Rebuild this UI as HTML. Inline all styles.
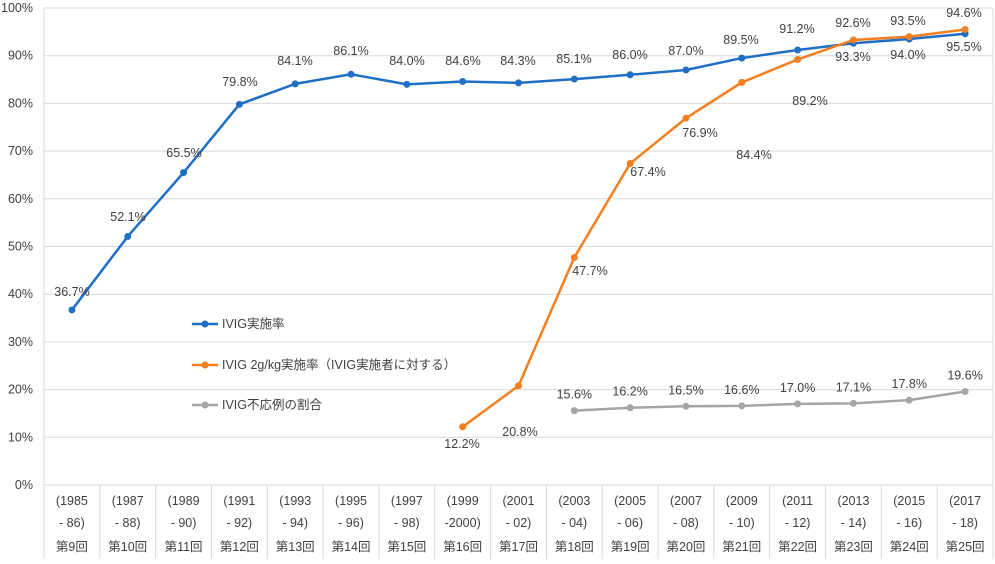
<!DOCTYPE html>
<html><head><meta charset="utf-8"><style>
body{margin:0;background:#fff}
text{font-family:"Liberation Sans","Noto Sans CJK JP",sans-serif;fill:#404040;font-size:12.5px}
</style></head><body>
<svg width="995" height="559" xmlns="http://www.w3.org/2000/svg">
</svg>
<script>
const s=document.querySelector('svg');const NS='http://www.w3.org/2000/svg';
function el(t,a,txt){const e=document.createElementNS(NS,t);for(const k in a)e.setAttribute(k,a[k]);if(txt!==undefined)e.textContent=txt;s.appendChild(e);return e;}
const L=44,R=993,B=485,T=8,cw=(R-L)/17;
const y=v=>B-v*(B-T)/100, x=i=>L+cw*(i+0.5);
for(let p=0;p<=100;p+=10){el('line',{x1:L,x2:R,y1:y(p),y2:y(p),stroke:'#d9d9d9'});el('text',{x:33,y:y(p)+4,'text-anchor':'end'},p+'%');}
el('line',{x1:L,x2:L,y1:T,y2:559,stroke:'#d9d9d9'});
for(let i=1;i<=17;i++)el('line',{x1:L+cw*i,x2:L+cw*i,y1:B,y2:559,stroke:'#d9d9d9'});
el('line',{x1:R,x2:R,y1:T,y2:B,stroke:'#d9d9d9'});
const yrs=[['(1985','- 86)'],['(1987','- 88)'],['(1989','- 90)'],['(1991','- 92)'],['(1993','- 94)'],['(1995','- 96)'],['(1997','- 98)'],['(1999','-2000)'],['(2001','- 02)'],['(2003','- 04)'],['(2005','- 06)'],['(2007','- 08)'],['(2009','- 10)'],['(2011','- 12)'],['(2013','- 14)'],['(2015','- 16)'],['(2017','- 18)']];
yrs.forEach((a,i)=>{el('text',{x:x(i),y:505,'text-anchor':'middle'},a[0]);el('text',{x:x(i),y:527,'text-anchor':'middle'},a[1]);el('text',{x:x(i),y:551,'text-anchor':'middle'},'第'+(i+9)+'回');});
function series(start,vals,col){const pts=vals.map((v,k)=>[x(start+k),y(v)]);
el('polyline',{points:pts.map(p=>p.join(',')).join(' '),fill:'none',stroke:col,'stroke-width':2.5});
pts.forEach(p=>el('circle',{cx:p[0],cy:p[1],r:3.5,fill:col}));}
const blue=[36.7,52.1,65.5,79.8,84.1,86.1,84.0,84.6,84.3,85.1,86.0,87.0,89.5,91.2,92.6,93.5,94.6];
const org=[12.2,20.8,47.7,67.4,76.9,84.4,89.2,93.3,94.0,95.5];
const gry=[15.6,16.2,16.5,16.6,17.0,17.1,17.8,19.6];
series(0,blue,'#1f6fc5');series(7,org,'#f47f20');series(9,gry,'#a5a5a5');
const bl=[[72,292],[128,217],[184,153],[240,82],[295,61],[351,51],[407,61],[463,61],[518,61],[574,59],[630,55],[686,51],[741,40],[797,29],[853,23],[908,21],[964,13]];
blue.forEach((v,i)=>el('text',{x:bl[i][0],y:bl[i][1]+4,'text-anchor':'middle'},v.toFixed(1)+'%'));
const ol=[[462,444],[520,432],[590,271],[648,172],[700,133],[754,155],[810,101],[853,57],[908,55],[964,47]];
org.forEach((v,k)=>el('text',{x:ol[k][0],y:ol[k][1]+4,'text-anchor':'middle'},v.toFixed(1)+'%'));
gry.forEach((v,k)=>el('text',{x:x(k+9),y:y(v)-12,'text-anchor':'middle'},v.toFixed(1)+'%'));
[['#1f6fc5','IVIG実施率',324],['#f47f20','IVIG 2g/kg実施率（IVIG実施者に対する）',365],['#a5a5a5','IVIG不応例の割合',405]].forEach(a=>{
el('line',{x1:192,x2:218,y1:a[2],y2:a[2],stroke:a[0],'stroke-width':2.5});el('circle',{cx:205,cy:a[2],r:3.5,fill:a[0]});
el('text',{x:222,y:a[2]+4},a[1]);});
</script>
</body></html>
